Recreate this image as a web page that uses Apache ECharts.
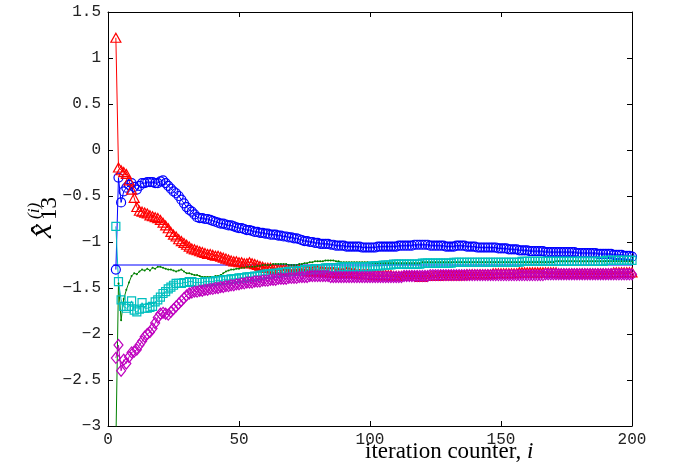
<!DOCTYPE html>
<html>
<head>
<meta charset="utf-8">
<title>x13 estimates</title>
<script src="https://cdn.jsdelivr.net/npm/echarts@6/dist/echarts.min.js"></script>
<style>
  html, body { margin: 0; padding: 0; background: #fff; }
  #main { width: 674px; height: 470px; }
</style>
</head>
<body>
<div id="main"></div>
<script>
// iteration counter, 3 .. 200
const iters = []
for (let i = 3; i <= 200; i++) iters.push(i)

const blueVals = [
  -1.30, -0.30, -0.57, -0.45, -0.41, -0.38, -0.36, -0.40, -0.43, -0.39,
  -0.36, -0.36, -0.35, -0.35, -0.35, -0.36, -0.36, -0.34, -0.33, -0.36,
  -0.39, -0.42, -0.45, -0.47, -0.50, -0.54, -0.58, -0.62, -0.65, -0.67,
  -0.70, -0.73, -0.74, -0.74, -0.75, -0.75, -0.76, -0.77, -0.78, -0.79,
  -0.80, -0.80, -0.81, -0.82, -0.82, -0.83, -0.84, -0.85, -0.85, -0.86,
  -0.87, -0.87, -0.88, -0.89, -0.89, -0.90, -0.90, -0.91,
  -0.91, -0.92, -0.92, -0.92, -0.93, -0.93, -0.94, -0.94, -0.95, -0.95,
  -0.96, -0.96, -0.97, -0.98, -0.99, -0.99, -1.00, -1.00, -1.01, -1.01,
  -1.02, -1.02, -1.02, -1.02, -1.03, -1.03, -1.04, -1.04, -1.04, -1.04,
  -1.05, -1.05, -1.05, -1.05, -1.05, -1.05, -1.06, -1.06, -1.06, -1.06,
  -1.06, -1.06, -1.05, -1.05, -1.05, -1.05, -1.05, -1.05, -1.05, -1.05,
  -1.04, -1.04, -1.04, -1.04, -1.04, -1.04, -1.03, -1.03, -1.03, -1.03,
  -1.03, -1.03, -1.04, -1.04, -1.04, -1.04, -1.04, -1.04, -1.05, -1.05,
  -1.05, -1.05, -1.04, -1.04, -1.04, -1.04, -1.05, -1.05, -1.05, -1.05,
  -1.06, -1.06, -1.06, -1.06, -1.06, -1.06, -1.06, -1.06, -1.07, -1.07,
  -1.07, -1.07, -1.08, -1.08, -1.08, -1.08, -1.09, -1.09, -1.09, -1.09,
  -1.10, -1.10, -1.10, -1.10, -1.10, -1.10, -1.11, -1.11, -1.11, -1.11,
  -1.11, -1.11, -1.11, -1.11, -1.11, -1.11, -1.11, -1.11, -1.12, -1.12,
  -1.12, -1.12, -1.12, -1.12, -1.12, -1.12, -1.13, -1.13, -1.13, -1.13,
  -1.13, -1.13, -1.14, -1.14, -1.14, -1.14, -1.15, -1.15, -1.15, -1.16
]

const redVals = [
  1.22, -0.19, -0.22, -0.24, -0.26, -0.33, -0.43, -0.52, -0.62, -0.66,
  -0.67, -0.68, -0.69, -0.71, -0.72, -0.73, -0.74, -0.76, -0.79, -0.82,
  -0.85, -0.89, -0.92, -0.94, -0.97, -0.99, -1.01, -1.03, -1.05, -1.07,
  -1.08, -1.09, -1.10, -1.11, -1.12, -1.13, -1.13, -1.14, -1.15, -1.15,
  -1.16, -1.17, -1.18, -1.19, -1.20, -1.21, -1.21, -1.22, -1.22, -1.23,
  -1.23, -1.22, -1.23, -1.24, -1.25, -1.26, -1.27, -1.28,
  -1.28, -1.28, -1.29, -1.29, -1.30, -1.30, -1.30, -1.30, -1.31, -1.31,
  -1.31, -1.31, -1.30, -1.30, -1.31, -1.31, -1.32, -1.32, -1.31, -1.31,
  -1.32, -1.32, -1.33, -1.33, -1.33, -1.33, -1.34, -1.34, -1.34, -1.34,
  -1.33, -1.33, -1.34, -1.34, -1.35, -1.35, -1.35, -1.35, -1.35, -1.35,
  -1.36, -1.36, -1.36, -1.36, -1.36, -1.36, -1.36, -1.36, -1.37, -1.37,
  -1.37, -1.37, -1.37, -1.37, -1.37, -1.37, -1.37, -1.37, -1.38, -1.38,
  -1.37, -1.37, -1.37, -1.37, -1.37, -1.37, -1.36, -1.36, -1.36, -1.36,
  -1.36, -1.36, -1.36, -1.36, -1.36, -1.36, -1.35, -1.35, -1.35, -1.35,
  -1.35, -1.35, -1.35, -1.35, -1.35, -1.35, -1.34, -1.34, -1.34, -1.34,
  -1.34, -1.34, -1.34, -1.34, -1.34, -1.34, -1.33, -1.33, -1.33, -1.33,
  -1.33, -1.33, -1.33, -1.33, -1.33, -1.33, -1.33, -1.33, -1.33, -1.33,
  -1.33, -1.34, -1.34, -1.34, -1.34, -1.34, -1.34, -1.34, -1.34, -1.34,
  -1.34, -1.34, -1.34, -1.34, -1.34, -1.34, -1.34, -1.34, -1.34, -1.34,
  -1.34, -1.34, -1.33, -1.33, -1.33, -1.33, -1.33, -1.33, -1.33, -1.33
]

const greenVals = [
  -3.20, -1.45, -1.85, -1.62, -1.52, -1.44, -1.37, -1.34, -1.35, -1.32,
  -1.30, -1.31, -1.29, -1.31, -1.28, -1.29, -1.27, -1.27, -1.28, -1.29,
  -1.30, -1.30, -1.31, -1.32, -1.31, -1.30, -1.32, -1.34, -1.34, -1.35,
  -1.36, -1.36, -1.37, -1.38, -1.38, -1.38, -1.38, -1.38, -1.37, -1.37,
  -1.36, -1.34, -1.32, -1.31, -1.30, -1.30, -1.29, -1.29, -1.28, -1.28,
  -1.27, -1.27, -1.27, -1.27, -1.26, -1.26, -1.25, -1.25,
  -1.25, -1.25, -1.24, -1.24, -1.24, -1.24, -1.24, -1.24, -1.25, -1.25,
  -1.25, -1.25, -1.24, -1.24, -1.23, -1.23, -1.22, -1.22, -1.21, -1.21,
  -1.21, -1.21, -1.20, -1.20, -1.20, -1.20, -1.21, -1.21, -1.22, -1.22,
  -1.22, -1.22, -1.22, -1.22, -1.22, -1.22, -1.22, -1.22, -1.22, -1.23,
  -1.23, -1.23, -1.23, -1.23, -1.23, -1.23, -1.23, -1.23, -1.23, -1.23,
  -1.23, -1.23, -1.23, -1.23, -1.23, -1.23, -1.23, -1.23, -1.23, -1.22,
  -1.22, -1.22, -1.22, -1.22, -1.22, -1.22, -1.22, -1.22, -1.22, -1.22,
  -1.22, -1.22, -1.22, -1.22, -1.22, -1.22, -1.22, -1.22, -1.22, -1.22,
  -1.22, -1.22, -1.22, -1.22, -1.22, -1.22, -1.22, -1.22, -1.22, -1.22,
  -1.22, -1.22, -1.22, -1.22, -1.22, -1.22, -1.22, -1.22, -1.22, -1.22,
  -1.22, -1.22, -1.22, -1.22, -1.22, -1.22, -1.22, -1.22, -1.22, -1.22,
  -1.21, -1.21, -1.21, -1.21, -1.21, -1.21, -1.21, -1.21, -1.21, -1.21,
  -1.21, -1.21, -1.21, -1.21, -1.21, -1.21, -1.21, -1.21, -1.21, -1.21,
  -1.21, -1.21, -1.21, -1.21, -1.21, -1.21, -1.21, -1.21, -1.21, -1.21
]

const cyanVals = [
  -0.83, -1.43, -1.63, -1.70, -1.72, -1.70, -1.64, -1.74, -1.76, -1.73,
  -1.66, -1.72, -1.72, -1.71, -1.70, -1.65, -1.63, -1.60, -1.56, -1.54,
  -1.51, -1.49, -1.47, -1.45, -1.45, -1.45, -1.44, -1.44, -1.43, -1.43,
  -1.44, -1.44, -1.44, -1.44, -1.43, -1.43, -1.43, -1.43, -1.42, -1.42,
  -1.42, -1.41, -1.41, -1.41, -1.40, -1.40, -1.40, -1.39, -1.39, -1.39,
  -1.38, -1.38, -1.38, -1.37, -1.37, -1.36, -1.36, -1.35,
  -1.35, -1.35, -1.34, -1.34, -1.34, -1.33, -1.33, -1.33, -1.32, -1.32,
  -1.32, -1.32, -1.31, -1.31, -1.30, -1.30, -1.30, -1.30, -1.29, -1.29,
  -1.29, -1.29, -1.28, -1.28, -1.28, -1.28, -1.28, -1.28, -1.27, -1.27,
  -1.27, -1.27, -1.27, -1.27, -1.27, -1.27, -1.27, -1.27, -1.27, -1.27,
  -1.26, -1.26, -1.26, -1.26, -1.25, -1.25, -1.25, -1.25, -1.24, -1.24,
  -1.24, -1.24, -1.24, -1.24, -1.24, -1.24, -1.24, -1.24, -1.24, -1.23,
  -1.23, -1.23, -1.23, -1.23, -1.23, -1.23, -1.23, -1.23, -1.23, -1.23,
  -1.23, -1.22, -1.22, -1.22, -1.22, -1.22, -1.22, -1.22, -1.22, -1.22,
  -1.22, -1.22, -1.22, -1.22, -1.22, -1.22, -1.22, -1.22, -1.22, -1.22,
  -1.22, -1.22, -1.22, -1.22, -1.22, -1.22, -1.22, -1.21, -1.21, -1.21,
  -1.21, -1.21, -1.21, -1.21, -1.21, -1.21, -1.21, -1.21, -1.21, -1.21,
  -1.21, -1.21, -1.21, -1.21, -1.21, -1.21, -1.21, -1.21, -1.21, -1.21,
  -1.21, -1.21, -1.21, -1.21, -1.21, -1.21, -1.21, -1.21, -1.21, -1.20,
  -1.20, -1.20, -1.20, -1.20, -1.20, -1.20, -1.20, -1.20, -1.20, -1.20
]

const magentaVals = [
  -2.26, -2.12, -2.40, -2.28, -2.32, -2.25, -2.20, -2.19, -2.17, -2.12,
  -2.08, -2.03, -2.00, -1.98, -1.94, -1.88, -1.82, -1.78, -1.77, -1.78,
  -1.79, -1.76, -1.73, -1.70, -1.67, -1.64, -1.61, -1.58, -1.56, -1.55,
  -1.54, -1.54, -1.53, -1.53, -1.52, -1.52, -1.51, -1.51, -1.50, -1.50,
  -1.49, -1.49, -1.48, -1.48, -1.47, -1.47, -1.46, -1.46, -1.45, -1.45,
  -1.44, -1.44, -1.44, -1.43, -1.43, -1.43, -1.42, -1.42,
  -1.42, -1.41, -1.41, -1.41, -1.40, -1.40, -1.40, -1.40, -1.39, -1.39,
  -1.39, -1.39, -1.38, -1.38, -1.38, -1.38, -1.37, -1.37, -1.37, -1.37,
  -1.37, -1.37, -1.37, -1.37, -1.38, -1.38, -1.38, -1.38, -1.38, -1.38,
  -1.38, -1.38, -1.38, -1.38, -1.38, -1.38, -1.38, -1.38, -1.38, -1.38,
  -1.38, -1.38, -1.38, -1.38, -1.38, -1.38, -1.38, -1.38, -1.38, -1.38,
  -1.38, -1.38, -1.37, -1.37, -1.37, -1.37, -1.37, -1.37, -1.37, -1.37,
  -1.37, -1.37, -1.36, -1.36, -1.36, -1.36, -1.36, -1.36, -1.36, -1.36,
  -1.36, -1.36, -1.36, -1.36, -1.36, -1.36, -1.36, -1.36, -1.36, -1.36,
  -1.36, -1.36, -1.36, -1.36, -1.36, -1.36, -1.36, -1.36, -1.36, -1.36,
  -1.36, -1.36, -1.36, -1.36, -1.36, -1.36, -1.36, -1.36, -1.36, -1.36,
  -1.36, -1.36, -1.36, -1.36, -1.36, -1.36, -1.35, -1.35, -1.35, -1.35,
  -1.35, -1.35, -1.35, -1.35, -1.35, -1.35, -1.35, -1.35, -1.35, -1.35,
  -1.35, -1.35, -1.35, -1.35, -1.35, -1.35, -1.35, -1.35, -1.35, -1.35,
  -1.35, -1.35, -1.35, -1.35, -1.35, -1.35, -1.35, -1.35, -1.35, -1.35
]

// true value line
const refIters = [2, 200]
const refValue = -1.25

const xTicks = { min: 0, max: 200, interval: 50 }
const yTicks = { min: -3, max: 1.5, interval: 0.5 }

const pairs = vals => iters.map((x, k) => [x, vals[k]])

const labelFont = {
  fontFamily: 'Liberation Mono',
  fontSize: 16,
  color: '#222'
}

const boxLine = { show: true, onZero: false, lineStyle: { color: '#000', width: 1 } }
const boxTick = { show: true, inside: true, length: 5, lineStyle: { color: '#000' } }

function markerSeries(name, vals, color, symbol, size) {
  return {
    name: name,
    type: 'line',
    data: pairs(vals),
    symbol: symbol,
    symbolSize: size,
    showSymbol: true,
    showAllSymbol: true,
    clip: true,
    lineStyle: { color: color, width: 1 },
    itemStyle: { color: 'rgba(0,0,0,0)', borderColor: color, borderWidth: 1.2 }
  }
}

const myChart = echarts.init(document.getElementById('main'), null, { renderer: 'canvas' })

const options = {
  animation: false,
  backgroundColor: '#fff',
  grid: { left: 108, right: 42, top: 12, bottom: 44 },
  xAxis: [{
    type: 'value',
    min: xTicks.min,
    max: xTicks.max,
    interval: xTicks.interval,
    axisLine: boxLine,
    axisTick: boxTick,
    axisLabel: Object.assign({ margin: 6 }, labelFont),
    splitLine: { show: false }
  }, {
    type: 'value',
    position: 'top',
    min: xTicks.min,
    max: xTicks.max,
    interval: xTicks.interval,
    axisLine: boxLine,
    axisTick: boxTick,
    axisLabel: { show: false },
    splitLine: { show: false }
  }],
  yAxis: [{
    type: 'value',
    position: 'left',
    min: yTicks.min,
    max: yTicks.max,
    interval: yTicks.interval,
    axisLine: boxLine,
    axisTick: boxTick,
    axisLabel: Object.assign({
      margin: 7,
      formatter: v => String(v).replace('-', '\u2212')
    }, labelFont),
    splitLine: { show: false }
  }, {
    type: 'value',
    position: 'right',
    min: yTicks.min,
    max: yTicks.max,
    interval: yTicks.interval,
    axisLine: boxLine,
    axisTick: boxTick,
    axisLabel: { show: false },
    splitLine: { show: false }
  }],
  series: [
    markerSeries('blue', blueVals, '#0000ff', 'circle', 9),
    markerSeries('red', redVals, '#ff0000', 'triangle', [10, 9]),
    {
      name: 'green',
      type: 'line',
      data: pairs(greenVals),
      symbol: 'circle',
      symbolSize: 2,
      showAllSymbol: true,
      clip: true,
      lineStyle: { color: '#008000', width: 1 },
      itemStyle: { color: '#008000' }
    },
    markerSeries('cyan', cyanVals, '#00bfbf', 'rect', 8),
    markerSeries('magenta', magentaVals, '#bf00bf', 'diamond', [9, 11]),
    {
      name: 'true',
      type: 'line',
      data: refIters.map(x => [x, refValue]),
      symbol: 'none',
      lineStyle: { color: '#0000ff', width: 1 }
    }
  ],
  graphic: [
    {
      type: 'text',
      left: 365,
      top: 440,
      style: {
        text: '{n|iteration counter, }{v|i}',
        rich: {
          n: { fontFamily: 'Liberation Serif', fontSize: 23, fill: '#000' },
          v: { fontFamily: 'Liberation Serif', fontStyle: 'italic', fontSize: 23, fill: '#000' }
        }
      }
    },
    {
      type: 'group',
      x: 58,
      y: 238,
      rotation: Math.PI / 2,
      children: [
        {
          type: 'text', x: 0, y: 1,
          style: { text: 'x\u0302', fontFamily: 'Liberation Serif', fontStyle: 'italic', fontSize: 32, fill: '#000', verticalAlign: 'bottom' }
        },
        {
          type: 'text', x: 18, y: 3,
          style: { text: '13', fontFamily: 'Liberation Serif', fontSize: 23, fill: '#000', verticalAlign: 'bottom' }
        },
        {
          type: 'text', x: 19, y: -15,
          style: { text: '(i)', fontFamily: 'Liberation Serif', fontStyle: 'italic', fontSize: 17, fill: '#000', verticalAlign: 'bottom' }
        }
      ]
    }
  ]
}

myChart.setOption(options)
</script>
</body>
</html>
